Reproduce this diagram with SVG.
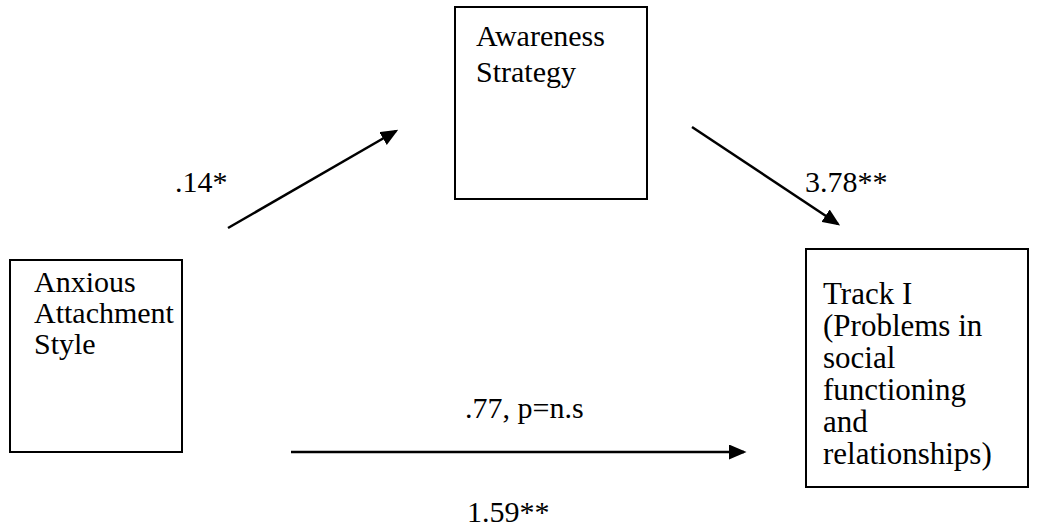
<svg xmlns="http://www.w3.org/2000/svg" width="1037" height="530" viewBox="0 0 1037 530">
<style>
.box{fill:#fff;stroke:#000;stroke-width:2}
.t{font-family:"Liberation Serif","Times New Roman",serif;font-size:30px;fill:#000}
.k{font-size:31px}
.c{stroke:#000;stroke-width:2.5;fill:none}
</style>
<defs>
<marker id="ah" markerWidth="7" markerHeight="6" refX="6" refY="3" orient="auto" markerUnits="strokeWidth">
<path d="M0,0 L7,3 L0,6 Z" fill="#000"/>
</marker>
</defs>
<rect width="1037" height="530" fill="#fff"/>
<g id="anxious">
<rect class="box" x="10" y="260" width="172" height="192"/>
<text class="t" x="34" y="292">Anxious</text>
<text class="t" x="34" y="323">Attachment</text>
<text class="t" x="34" y="354">Style</text>
</g>
<g id="awareness">
<rect class="box" x="455" y="7" width="192" height="192"/>
<text class="t" x="476" y="46">Awareness</text>
<text class="t" x="476" y="82">Strategy</text>
</g>
<g id="track">
<rect class="box" x="806" y="249" width="222" height="238"/>
<text class="t k" x="823" y="304">Track I</text>
<text class="t k" x="823" y="336">(Problems in</text>
<text class="t k" x="823" y="368">social</text>
<text class="t k" x="823" y="400">functioning</text>
<text class="t k" x="823" y="432">and</text>
<text class="t k" x="823" y="464">relationships)</text>
</g>
<g id="connectors">
<line class="c" x1="228" y1="228" x2="396" y2="131" marker-end="url(#ah)"/>
<line class="c" x1="692" y1="127" x2="838" y2="224" marker-end="url(#ah)"/>
<line class="c" x1="291" y1="452" x2="744" y2="452" marker-end="url(#ah)"/>
</g>
<g id="labels">
<text class="t" x="175" y="192">.14*</text>
<text class="t" x="805" y="192">3.78**</text>
<text class="t" x="465" y="418">.77, p=n.s</text>
<text class="t" x="467" y="522">1.59**</text>
</g>
</svg>
